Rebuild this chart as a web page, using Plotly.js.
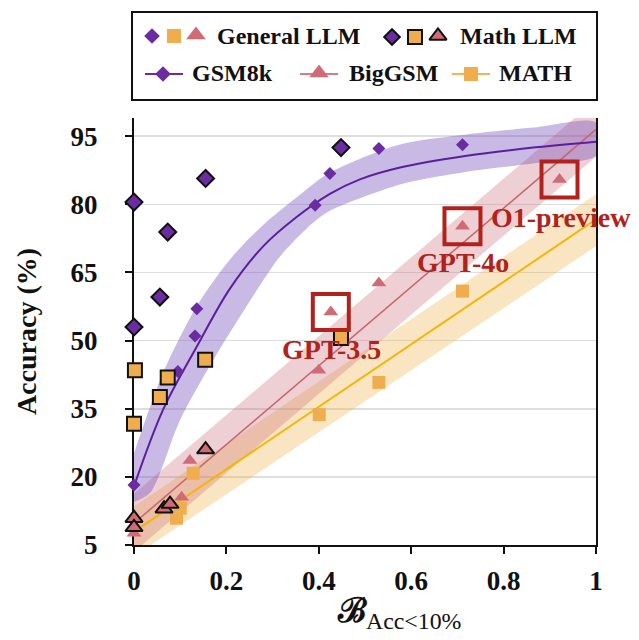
<!DOCTYPE html>
<html><head><meta charset="utf-8">
<script src="https://cdn.plot.ly/plotly-3.0.1.min.js"></script>
<style>body{margin:0;background:#fff}</style>
</head><body><div id="chart" style="width:639px;height:640px"></div>
<script>
// ---- data ----
// General LLM points
const genGsmX = [0, 0.095, 0.132, 0.136, 0.392, 0.424, 0.530, 0.711];
const genGsmY = [18.2, 43.2, 51.0, 57.0, 79.8, 86.8, 92.3, 93.1];
const genBigX = [0, 0.103, 0.121, 0.400, 0.426, 0.530, 0.711, 0.921];
const genBigY = [7.6, 15.5, 23.6, 43.5, 56.3, 62.7, 75.2, 85.5];
const genMathX = [0.092, 0.100, 0.128, 0.401, 0.530, 0.711];
const genMathY = [10.9, 13.1, 20.8, 33.7, 40.8, 60.9];
// Math LLM points
const mathGsmX = [0, 0, 0.056, 0.073, 0.155, 0.448];
const mathGsmY = [80.5, 53.0, 59.6, 73.9, 85.7, 92.5];
const mathMathX = [0.002, 0, 0.056, 0.073, 0.154, 0.448];
const mathMathY = [43.5, 31.7, 37.6, 41.9, 45.8, 50.6];
const mathBigX = [0, 0, 0.065, 0.078, 0.155];
const mathBigY = [10.9, 8.9, 13.0, 14.0, 26.0];
// GSM8k fit curve and band
const gsmFitX = [0, 0.063, 0.136, 0.208, 0.280, 0.352, 0.424, 0.489, 0.576, 0.72, 0.864, 1.0];
const gsmFitY = [17.9, 34.8, 48.7, 61.5, 70.8, 77.2, 82.3, 85.5, 88.1, 90.7, 92.5, 93.8];
const gsmUpX = [0, 0.063, 0.136, 0.208, 0.280, 0.352, 0.424, 0.576, 0.72, 0.864, 1.0];
const gsmUpY = [25.2, 42.9, 57.6, 67.9, 75.5, 81.5, 87.0, 93.2, 95.4, 96.9, 98.0];
const gsmLoX = [0, 0.035, 0.1, 0.172, 0.244, 0.316, 0.388, 0.424, 0.576, 0.72, 0.864, 1.0];
const gsmLoY = [14.5, 16.5, 32.6, 45.8, 57.6, 68.5, 76.0, 78.6, 84.4, 87.2, 89.0, 90.7];
// BigGSM and MATH linear fits and bands
const lineX = [0, 1];
const bigFitY = [9.8, 96.5];
const bigUpY = [16.3, 103.0];
const bigLoY = [3.5, 90.5];
const mathFitY = [7.9, 76.7];
const mathUpY = [13.5, 82.2];
const mathLoY = [2.5, 70.8];
// highlighted models
const hlNames = ['GPT-3.5', 'GPT-4o', 'O1-preview'];
const hlX = [0.426, 0.711, 0.921];
const hlY = [56.3, 75.2, 85.5];
const hlLabelX = [0.428, 0.712, 0.925];
const hlLabelY = [48.0, 67.1, 77.1];
const yTicks = [5, 20, 35, 50, 65, 80, 95];
const xTicks = [0, 0.2, 0.4, 0.6, 0.8, 1];
const xTickText = ['0', '0.2', '0.4', '0.6', '0.8', '1'];

// ---- styles ----
const PURPLE = '#6a2ca0', PINK = '#d06b75', ORANGE = '#f0ad4e';
const FONT = 'Liberation Serif, DejaVu Serif, serif';
const RED = '#b2221c';

function poly(ux, uy, lx, ly) {
  return { x: ux.concat(lx.slice().reverse()), y: uy.concat(ly.slice().reverse()) };
}
const gBand = poly(gsmUpX, gsmUpY, gsmLoX, gsmLoY);
const bBand = poly(lineX, bigUpY, lineX, bigLoY);
const mBand = poly(lineX, mathUpY, lineX, mathLoY);

const traces = [
  {x: mBand.x, y: mBand.y, fill: 'toself', mode: 'lines', line: {width: 0}, fillcolor: 'rgba(240,180,80,0.35)'},
  {x: bBand.x, y: bBand.y, fill: 'toself', mode: 'lines', line: {width: 0}, fillcolor: 'rgba(200,100,112,0.3)'},
  {x: gBand.x, y: gBand.y, fill: 'toself', mode: 'lines', line: {width: 0, shape: 'spline', smoothing: 0.8}, fillcolor: 'rgba(120,80,190,0.4)'},
  {x: lineX, y: mathFitY, mode: 'lines', line: {color: '#f2b705', width: 2}},
  {x: lineX, y: bigFitY, mode: 'lines', line: {color: '#c8646e', width: 1.5}},
  {x: gsmFitX, y: gsmFitY, mode: 'lines', line: {color: '#5b1f9e', width: 2, shape: 'spline'}},
  // general LLM markers
  {x: genMathX, y: genMathY, mode: 'markers', cliponaxis: false, marker: {symbol: 'square', size: 13, color: ORANGE}},
  {x: genBigX, y: genBigY, mode: 'markers', cliponaxis: false, marker: {symbol: 'triangle-up', size: 13, color: PINK}},
  {x: genGsmX, y: genGsmY, mode: 'markers', cliponaxis: false, marker: {symbol: 'diamond', size: 10, color: PURPLE}},
  // math LLM markers
  {x: mathMathX, y: mathMathY, mode: 'markers', cliponaxis: false, marker: {symbol: 'square', size: 14, color: ORANGE, line: {color: '#111', width: 2}}},
  {x: mathBigX, y: mathBigY, mode: 'markers', cliponaxis: false, marker: {symbol: 'triangle-up', size: 15, color: PINK, line: {color: '#111', width: 2}}},
  {x: mathGsmX, y: mathGsmY, mode: 'markers', cliponaxis: false, marker: {symbol: 'diamond', size: 13, color: PURPLE, line: {color: '#111', width: 2}}},
];
traces.forEach(t => { t.showlegend = false; t.hoverinfo = 'skip'; });

// ---- custom legend on a pixel-like helper axis ----
const L = {xaxis: 'x2', yaxis: 'y2', showlegend: false, hoverinfo: 'skip', cliponaxis: false};
const legTraces = [
  Object.assign({x: [152], y: [36], mode: 'markers', marker: {symbol: 'diamond', size: 12, color: PURPLE}}, L),
  Object.assign({x: [174], y: [36], mode: 'markers', marker: {symbol: 'square', size: 14, color: ORANGE}}, L),
  Object.assign({x: [196], y: [35], mode: 'markers', marker: {symbol: 'triangle-up', size: 17, color: PINK}}, L),
  Object.assign({x: [392], y: [37], mode: 'markers', marker: {symbol: 'diamond', size: 12, color: PURPLE, line: {color: '#111', width: 2}}}, L),
  Object.assign({x: [415], y: [37], mode: 'markers', marker: {symbol: 'square', size: 14, color: ORANGE, line: {color: '#111', width: 2}}}, L),
  Object.assign({x: [438], y: [36], mode: 'markers', marker: {symbol: 'triangle-up', size: 15, color: PINK, line: {color: '#111', width: 2}}}, L),
  Object.assign({x: [145, 183], y: [74, 74], mode: 'lines', line: {color: PURPLE, width: 2}}, L),
  Object.assign({x: [163], y: [74], mode: 'markers', marker: {symbol: 'diamond', size: 12, color: PURPLE}}, L),
  Object.assign({x: [300, 338], y: [74, 74], mode: 'lines', line: {color: '#d97b84', width: 2}}, L),
  Object.assign({x: [319], y: [73], mode: 'markers', marker: {symbol: 'triangle-up', size: 17, color: PINK}}, L),
  Object.assign({x: [452, 490], y: [74, 74], mode: 'lines', line: {color: '#f3b35a', width: 2}}, L),
  Object.assign({x: [471], y: [74], mode: 'markers', marker: {symbol: 'square', size: 14, color: ORANGE}}, L),
];

const legText = [
  ['General LLM', 215, 36], ['Math LLM', 458, 36], ['GSM8k', 190, 73], ['BigGSM', 347, 73], ['MATH', 497, 73]
];

const annotations = legText.map(t => ({
  xref: 'x2', yref: 'y2', x: t[1], y: t[2], text: t[0], showarrow: false,
  xanchor: 'left', yanchor: 'middle', font: {family: FONT, size: 24, color: '#111', weight: 'bold'}
}));
hlNames.forEach((n, i) => annotations.push({
  x: hlLabelX[i], y: hlLabelY[i], text: n, showarrow: false, xanchor: 'center', yanchor: 'middle',
  font: {family: FONT, size: 28, color: RED, weight: 'bold'}
}));
annotations.push({
  xref: 'paper', yref: 'paper', x: 0.575, y: -0.127, xanchor: 'center', yanchor: 'middle', showarrow: false,
  text: '<b>ℬ</b><sub>Acc&lt;10%</sub>', font: {family: FONT, size: 34, color: '#111'}
});

const shapes = hlX.map((x, i) => ({
  type: 'rect', xref: 'x', yref: 'y', xsizemode: 'pixel', ysizemode: 'pixel',
  xanchor: x, yanchor: hlY[i], x0: -18, x1: 18, y0: -18, y1: 18,
  line: {color: RED, width: 4}, fillcolor: 'rgba(0,0,0,0)', layer: 'above'
}));
// legend frame (paper coords: plot spans px 134..596 horizontally, paper y spans px 545..10)
shapes.push({type: 'rect', xref: 'paper', yref: 'paper', x0: -0.0043, x1: 1.0022, y0: 0.8318, y1: 0.9963,
  line: {color: '#111', width: 2}, fillcolor: 'rgba(0,0,0,0)'});

const layout = {
  width: 639, height: 640,
  margin: {l: 134, r: 43, t: 10, b: 95},
  paper_bgcolor: '#fff', plot_bgcolor: '#fff',
  showlegend: false,
  xaxis: {
    range: [0, 1], tickvals: xTicks, ticktext: xTickText, showgrid: false, zeroline: false,
    showline: true, linecolor: '#111', linewidth: 2, ticks: 'outside', ticklen: 7, tickwidth: 2, tickcolor: '#111',
    tickfont: {family: FONT, size: 27, color: '#111', weight: 'bold'}, ticklabelstandoff: 4, layer: 'below traces'
  },
  yaxis: {
    domain: [0, 0.798], range: [5, 99], tickvals: yTicks, showgrid: true, gridcolor: '#dedede', gridwidth: 1.5,
    zeroline: false, showline: true, mirror: true, linecolor: '#111', linewidth: 2,
    ticks: 'outside', ticklen: 7, tickwidth: 2, tickcolor: '#111', ticklabelstandoff: 22,
    tickfont: {family: FONT, size: 27, color: '#111', weight: 'bold'}, layer: 'below traces',
    title: {text: 'Accuracy (%)', font: {family: FONT, size: 28, color: '#111', weight: 'bold'}, standoff: 26}
  },
  xaxis2: {domain: [0, 1], range: [134, 596], visible: false, anchor: 'y2', fixedrange: true},
  yaxis2: {domain: [0.8318, 0.9963], range: [100, 12], visible: false, anchor: 'x2', fixedrange: true},
  annotations: annotations,
  shapes: shapes
};

Plotly.newPlot('chart', traces.concat(legTraces), layout, {displayModeBar: false, staticPlot: true});
</script>
</body></html>
